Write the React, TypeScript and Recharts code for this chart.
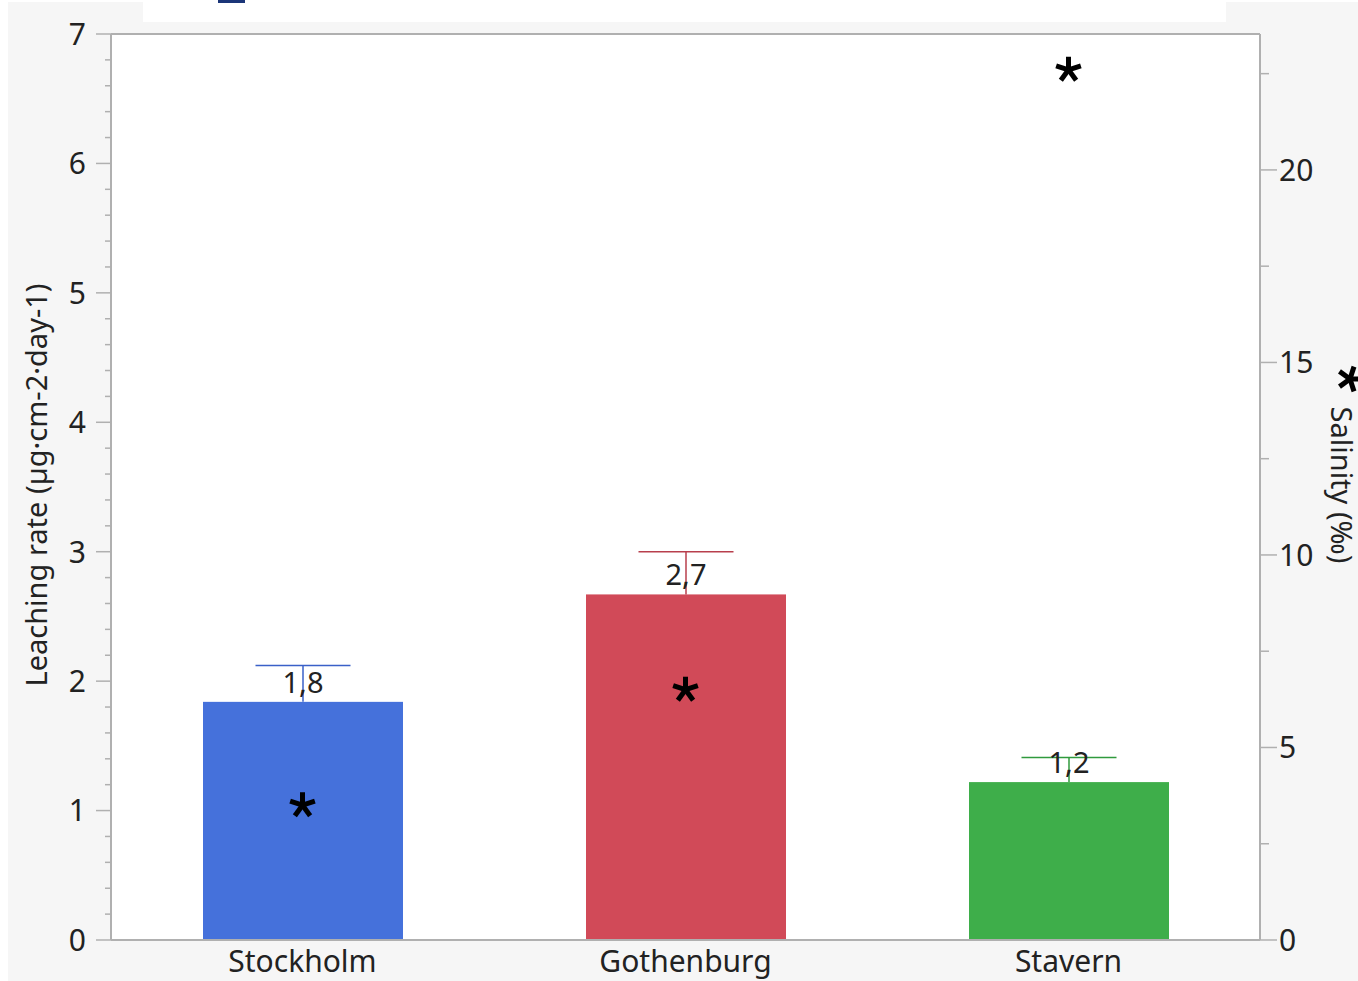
import React from "react";
import {
  ComposedChart,
  Bar,
  Scatter,
  XAxis,
  YAxis,
  CartesianGrid,
  ReferenceLine,
} from "recharts";

// sites and measured values
const sites = ["Stockholm", "Gothenburg", "Stavern"];
const leachingRate = [1.84, 2.67, 1.22];
const leachingUpper = [2.12, 3.0, 1.41];
const salinity = [3.5, 6.5, 22.6];

const barColors = ["#4571db", "#d14a58", "#3eae4a"];
const errColors = ["#3a60c8", "#b83f4c", "#309a3d"];

const leftMajor = [0, 1, 2, 3, 4, 5, 6, 7];
const rightMajor = [0, 5, 10, 15, 20];

const leftTicks = leftMajor.flatMap((v, i) =>
  i < leftMajor.length - 1 ? [v, v + 0.2, v + 0.4, v + 0.6, v + 0.8] : [v]
);
const rightTicks = [0, 2.5, 5, 7.5, 10, 12.5, 15, 17.5, 20, 22.5];

const data = sites.map((name, i) => ({
  name,
  rate: leachingRate[i],
  upper: leachingUpper[i],
  sal: salinity[i],
  color: barColors[i],
  errColor: errColors[i],
}));

const FONT = "'Noto Sans', 'Open Sans', sans-serif";
const TEXT = "#222";
const AXIS = "#b0b0b0";

const fmt = (v: number) => v.toFixed(1).replace(".", ",");

function BarWithError(props: any) {
  const { x, y, width, height, payload } = props;
  const perUnit = height / payload.rate;
  const top = y - (payload.upper - payload.rate) * perUnit;
  const cx = x + width / 2;
  const cap = 95;
  return (
    <g>
      <rect x={x} y={y} width={width} height={height} fill={payload.color} />
      <line x1={cx} x2={cx} y1={y} y2={top} stroke={payload.errColor} strokeWidth={1.5} />
      <line x1={cx - cap / 2} x2={cx + cap / 2} y1={top} y2={top} stroke={payload.errColor} strokeWidth={1.5} />
      <text x={cx} y={y - 9} textAnchor="middle" fontSize={29} fontFamily={FONT} fill={TEXT}>
        {fmt(payload.rate)}
      </text>
    </g>
  );
}

function Asterisk({ cx, cy, size = 13 }: { cx: number; cy: number; size?: number }) {
  const angles = [-90, -18, 54, 126, 198];
  return (
    <g>
      {angles.map((a) => {
        const r = (a * Math.PI) / 180;
        return (
          <line
            key={a}
            x1={cx}
            y1={cy}
            x2={cx + Math.cos(r) * size}
            y2={cy + Math.sin(r) * size}
            stroke="#000"
            strokeWidth={5}
          />
        );
      })}
    </g>
  );
}

function LeftTick(props: any) {
  const { x, y, payload } = props;
  const v = payload.value;
  const major = Math.abs(v - Math.round(v)) < 1e-6;
  if (!major) return null;
  return (
    <g>
      <line x1={x - 9} x2={x} y1={y} y2={y} stroke={AXIS} strokeWidth={1.5} />
      <text x={x - 19} y={y} dy="0.36em" textAnchor="end" fontSize={30} fontFamily={FONT} fill={TEXT}>
        {v}
      </text>
    </g>
  );
}

function RightTick(props: any) {
  const { x, y, payload } = props;
  const v = payload.value;
  if (!rightMajor.includes(v)) return null;
  return (
    <g>
      <line x1={x} x2={x + 8} y1={y} y2={y} stroke={AXIS} strokeWidth={1.5} />
      <text x={x + 10} y={y} dy="0.36em" textAnchor="start" fontSize={30} fontFamily={FONT} fill={TEXT}>
        {v}
      </text>
    </g>
  );
}

function XTick(props: any) {
  const { x, payload } = props;
  return (
    <text x={x} y={972} textAnchor="middle" fontSize={30} fontFamily={FONT} fill={TEXT}>
      {payload.value}
    </text>
  );
}

export default function App() {
  return (
    <div style={{ position: "absolute", left: 0, top: 0, width: 1358, height: 981, background: "#fff", overflow: "hidden" }}>
      <div style={{ position: "absolute", left: 8, top: 2, width: 1350, height: 979, background: "#f6f6f6" }} />
      <div style={{ position: "absolute", left: 143, top: 0, width: 1083, height: 22, background: "#fff" }} />
      <div style={{ position: "absolute", left: 218, top: 0, width: 27, height: 3, background: "#1b3578" }} />
      <div style={{ position: "absolute", left: 0, top: 0 }}>
        <ComposedChart
          width={1358}
          height={981}
          data={data}
          margin={{ top: 34, right: 0, bottom: 0, left: 0 }}
        >
          <CartesianGrid yAxisId="left" fill="#fff" horizontal={false} vertical={false} />
          <XAxis
            dataKey="name"
            height={41}
            axisLine={{ stroke: AXIS, strokeWidth: 2 }}
            tickLine={false}
            tick={<XTick />}
            interval={0}
          />
          <YAxis
            yAxisId="left"
            width={111}
            domain={[0, 7]}
            ticks={leftTicks}
            interval={0}
            tickSize={6}
            tickMargin={0}
            axisLine={{ stroke: AXIS, strokeWidth: 2 }}
            tickLine={{ stroke: AXIS, strokeWidth: 1.5 }}
            tick={<LeftTick />}
            allowDataOverflow
          />
          <YAxis
            yAxisId="right"
            orientation="right"
            width={98}
            domain={[0, 23.53]}
            ticks={rightTicks}
            interval={0}
            tickSize={9}
            tickMargin={0}
            axisLine={{ stroke: AXIS, strokeWidth: 2 }}
            tickLine={{ stroke: AXIS, strokeWidth: 1.5 }}
            tick={<RightTick />}
            allowDataOverflow
          />
          <ReferenceLine yAxisId="left" y={7} stroke={AXIS} strokeWidth={2} />
          <Bar
            yAxisId="left"
            dataKey="rate"
            barSize={200}
            shape={<BarWithError />}
            isAnimationActive={false}
          />
          <Scatter
            yAxisId="right"
            dataKey="sal"
            shape={(p: any) => <Asterisk cx={p.cx} cy={p.cy} />}
            isAnimationActive={false}
          />
        </ComposedChart>
      </div>
      <svg width={1358} height={981} style={{ position: "absolute", left: 0, top: 0, pointerEvents: "none" }}>
        <text
          transform="translate(37,485) rotate(-90)"
          textAnchor="middle"
          dy="0.35em"
          fontSize={29}
          fontFamily={FONT}
          fill={TEXT}
        >
          Leaching rate (µg·cm-2·day-1)
        </text>
        <text
          transform="translate(1341,485) rotate(90)"
          textAnchor="middle"
          dy="0.35em"
          fontSize={29}
          fontFamily={FONT}
          fill={TEXT}
        >
          Salinity (‰)
        </text>
        <g transform="translate(1350,379) rotate(90) translate(-1350,-379)">
          <Asterisk cx={1350} cy={379} />
        </g>
      </svg>
    </div>
  );
}
